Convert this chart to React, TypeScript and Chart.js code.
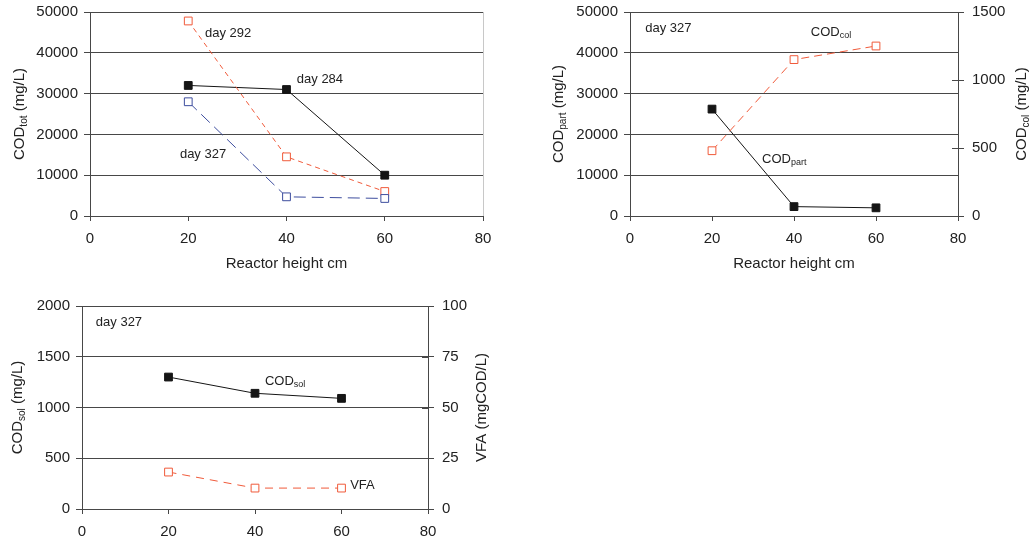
import React, { useEffect, useRef } from 'react';
import { Chart, registerables } from 'chart.js';

Chart.register(...registerables);
Chart.defaults.font.family = '"Liberation Sans", Arial, Helvetica, sans-serif';

// ---------- data ----------
const heights = [20, 40, 60];
const xTicks = [0, 20, 40, 60, 80];

// panel 1: COD_tot
const day284 = [32000, 31000, 10000];
const day292 = [47800, 14500, 6000];
const day327 = [28000, 4700, 4300];
const codTotTicks = [0, 10000, 20000, 30000, 40000, 50000];

// panel 2: COD_part / COD_col (day 327)
const codPart = [26200, 2300, 2000];
const codCol = [480, 1150, 1250];
const codPartTicks = [0, 10000, 20000, 30000, 40000, 50000];
const codColTicks = [0, 500, 1000, 1500];

// panel 3: COD_sol / VFA (day 327)
const codSol = [1300, 1140, 1090];
const vfa = [18.2, 10.3, 10.3];
const codSolTicks = [0, 500, 1000, 1500, 2000];
const vfaTicks = [0, 25, 50, 75, 100];

// ---------- styles ----------
const INK = '#222222';
const GRID = '#474747';
const BLACK = '#151515';
const RED = '#f05a3a';
const BLUE = '#3d4d9e';

type Part = { t: string; sub?: boolean };

const pts = (ys: number[]) => heights.map((h, i) => ({ x: h, y: ys[i] }));

const solidBlack = (label: string, ys: number[], axis = 'y') => ({
  label,
  data: pts(ys),
  yAxisID: axis,
  borderColor: BLACK,
  borderWidth: 1,
  pointStyle: 'rect',
  pointRadius: 5.5,
  pointBackgroundColor: BLACK,
  pointBorderColor: BLACK,
  pointBorderWidth: 1,
  tension: 0,
  fill: false,
});

const openDashed = (label: string, ys: number[], color: string, dash: number[], axis = 'y') => ({
  label,
  data: pts(ys),
  yAxisID: axis,
  borderColor: color,
  borderWidth: 1,
  borderDash: dash,
  pointStyle: 'rect',
  pointRadius: 5.5,
  pointBackgroundColor: '#ffffff',
  pointBorderColor: color,
  pointBorderWidth: 1,
  tension: 0,
  fill: false,
});

function drawParts(ctx: CanvasRenderingContext2D, parts: Part[], x: number, y: number, size: number, align: 'left' | 'center') {
  const subSize = Math.round(size * 0.68);
  const fam = '"Liberation Sans", Arial, sans-serif';
  let total = 0;
  const widths = parts.map((p) => {
    ctx.font = `${p.sub ? subSize : size}px ${fam}`;
    const w = ctx.measureText(p.t).width;
    total += w;
    return w;
  });
  let cx = align === 'center' ? x - total / 2 : x;
  ctx.textAlign = 'left';
  ctx.textBaseline = 'alphabetic';
  const base = y + size * 0.36;
  parts.forEach((p, i) => {
    ctx.font = `${p.sub ? subSize : size}px ${fam}`;
    ctx.fillText(p.t, cx, p.sub ? base + size * 0.2 : base);
    cx += widths[i];
  });
}

type Title = { parts: Part[]; side: 'left' | 'right' | 'bottom'; offset: number };
type Note = { parts: Part[]; x: number; y: number; axis?: string };

interface PanelSpec {
  W: number;
  H: number;
  area: { left: number; top: number; right: number; bottom: number };
  datasets: any[];
  yTicks: number[];
  y1Ticks?: number[];
  titles: Title[];
  notes: Note[];
  frameRight?: string;
}

const zeroPad = (s: any) => {
  s.paddingTop = 0;
  s.paddingBottom = 0;
  s.paddingLeft = 0;
  s.paddingRight = 0;
};

function makeConfig(spec: PanelSpec): any {
  const { W, H, area, yTicks, y1Ticks } = spec;
  const tickFont = { size: 15 };
  const scales: any = {
    x: {
      type: 'linear',
      min: 0,
      max: 80,
      afterBuildTicks: (s: any) => {
        s.ticks = xTicks.map((v) => ({ value: v }));
      },
      afterFit: (s: any) => {
        s.height = H - area.bottom;
        zeroPad(s);
      },
      grid: { drawOnChartArea: false, drawTicks: true, tickLength: 5, color: GRID, lineWidth: 1 },
      border: { display: true, color: GRID, width: 1 },
      ticks: { font: tickFont, color: INK, padding: 9, maxRotation: 0, autoSkip: false, callback: (v: any) => String(v) },
    },
    y: {
      type: 'linear',
      position: 'left',
      min: 0,
      max: yTicks[yTicks.length - 1],
      afterBuildTicks: (s: any) => {
        s.ticks = yTicks.map((v) => ({ value: v }));
      },
      afterFit: (s: any) => {
        s.width = area.left;
        zeroPad(s);
      },
      grid: { color: GRID, lineWidth: 1, drawTicks: true, tickLength: 6 },
      border: { display: true, color: GRID, width: 1 },
      ticks: { font: tickFont, color: INK, padding: 6, autoSkip: false, callback: (v: any) => String(v) },
    },
  };
  if (y1Ticks) {
    scales.y1 = {
      type: 'linear',
      position: 'right',
      min: 0,
      max: y1Ticks[y1Ticks.length - 1],
      afterBuildTicks: (s: any) => {
        s.ticks = y1Ticks.map((v) => ({ value: v }));
      },
      afterFit: (s: any) => {
        s.width = W - area.right;
        zeroPad(s);
      },
      grid: { drawOnChartArea: false, color: GRID, lineWidth: 1, drawTicks: true, tickLength: 6 },
      border: { display: true, color: GRID, width: 1 },
      ticks: { font: tickFont, color: INK, padding: 8, autoSkip: false, callback: (v: any) => String(v) },
    };
  }

  const deco = {
    id: 'deco',
    afterDraw(chart: any) {
      const ctx: CanvasRenderingContext2D = chart.ctx;
      const ca = chart.chartArea;
      ctx.save();
      // light frame on the right when there is no right axis
      if (spec.frameRight) {
        ctx.strokeStyle = spec.frameRight;
        ctx.lineWidth = 1;
        ctx.beginPath();
        ctx.moveTo(Math.round(ca.right) + 0.5, ca.top);
        ctx.lineTo(Math.round(ca.right) + 0.5, ca.bottom);
        ctx.stroke();
      }
      // inner halves of the right-axis tick marks
      if (chart.scales.y1) {
        const s = chart.scales.y1;
        ctx.strokeStyle = GRID;
        ctx.lineWidth = 1;
        s.ticks.forEach((t: any) => {
          const py = Math.round(s.getPixelForValue(t.value)) + 0.5;
          ctx.beginPath();
          ctx.moveTo(ca.right - 6, py);
          ctx.lineTo(ca.right, py);
          ctx.stroke();
        });
      }
      ctx.fillStyle = INK;
      // axis titles
      spec.titles.forEach((tt) => {
        if (tt.side === 'bottom') {
          drawParts(ctx, tt.parts, (ca.left + ca.right) / 2, ca.bottom + tt.offset, 15, 'center');
        } else {
          const cx = tt.side === 'left' ? ca.left - tt.offset : ca.right + tt.offset;
          const cy = (ca.top + ca.bottom) / 2;
          ctx.save();
          ctx.translate(cx, cy);
          ctx.rotate(-Math.PI / 2);
          drawParts(ctx, tt.parts, 0, 0, 15, 'center');
          ctx.restore();
        }
      });
      // in-plot labels, placed in data units
      spec.notes.forEach((n) => {
        const px = chart.scales.x.getPixelForValue(n.x);
        const py = chart.scales[n.axis || 'y'].getPixelForValue(n.y);
        drawParts(ctx, n.parts, px, py, 13, 'left');
      });
      ctx.restore();
    },
  };

  return {
    type: 'line',
    data: { datasets: spec.datasets },
    options: {
      responsive: false,
      maintainAspectRatio: false,
      animation: false,
      devicePixelRatio: 1,
      layout: {
        padding: { top: area.top, left: 0, bottom: 0, right: y1Ticks ? 0 : W - area.right },
      },
      plugins: { legend: { display: false }, tooltip: { enabled: false } },
      events: [],
      scales,
    },
    plugins: [deco],
  };
}

function Panel({ x, y, spec }: { x: number; y: number; spec: PanelSpec }) {
  const ref = useRef<HTMLCanvasElement | null>(null);
  useEffect(() => {
    if (!ref.current) return;
    const chart = new Chart(ref.current, makeConfig(spec));
    return () => chart.destroy();
  }, []);
  return (
    <canvas
      ref={ref}
      width={spec.W}
      height={spec.H}
      style={{ position: 'absolute', left: x, top: y, width: spec.W, height: spec.H, display: 'block' }}
    />
  );
}

const xTitle: Title = { parts: [{ t: 'Reactor height cm' }], side: 'bottom', offset: 47 };

const panel1: PanelSpec = {
  W: 500,
  H: 280,
  area: { left: 90, top: 12, right: 483, bottom: 216 },
  datasets: [
    openDashed('day 327', day327, BLUE, [12, 6]),
    openDashed('day 292', day292, RED, [5, 4]),
    solidBlack('day 284', day284),
  ],
  yTicks: codTotTicks,
  titles: [
    { parts: [{ t: 'COD' }, { t: 'tot', sub: true }, { t: ' (mg/L)' }], side: 'left', offset: 71 },
    xTitle,
  ],
  notes: [
    { parts: [{ t: 'day 292' }], x: 23.4, y: 45100 },
    { parts: [{ t: 'day 284' }], x: 42.1, y: 33800 },
    { parts: [{ t: 'day 327' }], x: 18.3, y: 15400 },
  ],
  frameRight: '#c8c8c8',
};

const panel2: PanelSpec = {
  W: 493,
  H: 280,
  area: { left: 90, top: 12, right: 418, bottom: 216 },
  datasets: [
    openDashed('COD col', codCol, RED, [8, 5], 'y1'),
    solidBlack('COD part', codPart),
  ],
  yTicks: codPartTicks,
  y1Ticks: codColTicks,
  titles: [
    { parts: [{ t: 'COD' }, { t: 'part', sub: true }, { t: ' (mg/L)' }], side: 'left', offset: 72 },
    { parts: [{ t: 'COD' }, { t: 'col', sub: true }, { t: ' (mg/L)' }], side: 'right', offset: 63 },
    xTitle,
  ],
  notes: [
    { parts: [{ t: 'day 327' }], x: 3.7, y: 46300 },
    { parts: [{ t: 'COD' }, { t: 'col', sub: true }], x: 44.1, y: 45300 },
    { parts: [{ t: 'COD' }, { t: 'part', sub: true }], x: 32.2, y: 14200 },
  ],
};

const panel3: PanelSpec = {
  W: 500,
  H: 254,
  area: { left: 82, top: 16, right: 428, bottom: 219 },
  datasets: [
    openDashed('VFA', vfa, RED, [8, 6], 'y1'),
    solidBlack('COD sol', codSol),
  ],
  yTicks: codSolTicks,
  y1Ticks: vfaTicks,
  titles: [
    { parts: [{ t: 'COD' }, { t: 'sol', sub: true }, { t: ' (mg/L)' }], side: 'left', offset: 65 },
    { parts: [{ t: 'VFA (mgCOD/L)' }], side: 'right', offset: 53 },
  ],
  notes: [
    { parts: [{ t: 'day 327' }], x: 3.2, y: 1852 },
    { parts: [{ t: 'COD' }, { t: 'sol', sub: true }], x: 42.3, y: 1271 },
    { parts: [{ t: 'VFA' }], x: 62, y: 246 },
  ],
};

export default function App() {
  return (
    <div style={{ position: 'absolute', left: 0, top: 0, width: 1033, height: 544, background: '#ffffff', overflow: 'hidden' }}>
      <Panel x={0} y={0} spec={panel1} />
      <Panel x={540} y={0} spec={panel2} />
      <Panel x={0} y={290} spec={panel3} />
    </div>
  );
}
